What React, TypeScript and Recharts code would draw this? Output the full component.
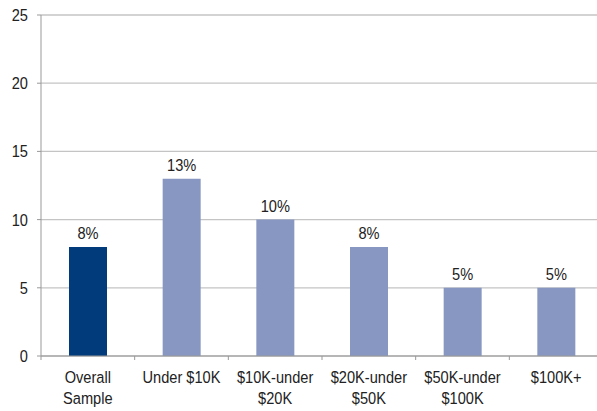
import React from 'react';
import { BarChart, Bar, XAxis, YAxis, CartesianGrid, LabelList, Cell } from 'recharts';

const categories = ['Overall\nSample', 'Under $10K', '$10K-under\n$20K', '$20K-under\n$50K', '$50K-under\n$100K', '$100K+'];
const values = [8, 13, 10, 8, 5, 5];
const barColors = ['#023b7b', '#8797c1', '#8797c1', '#8797c1', '#8797c1', '#8797c1'];
const yTicks = [0, 5, 10, 15, 20, 25];

const data = categories.map((c, i) => ({ name: c, value: values[i] }));

const FONT = '"Liberation Sans", Arial, sans-serif';
const SX = 0.86;

const XTick = (props: any) => {
  const { x, y, payload, width, visibleTicksCount } = props;
  const step = width && visibleTicksCount ? width / visibleTicksCount : 0;
  const lines = String(payload.value).split('\n');
  return (
    <g>
      <line x1={x - step / 2} x2={x - step / 2} y1={y - 10} y2={y - 6} stroke="#999" strokeWidth={1} />
      <g transform={`translate(${x},${y}) scale(${SX},1)`}>
        <text x={0} y={0} textAnchor="middle" fill="#222" fontSize={17} fontFamily={FONT}>
          {lines.map((l, i) => (
            <tspan key={i} x={0} dy={i === 0 ? 17 : 21}>{l}</tspan>
          ))}
        </text>
      </g>
    </g>
  );
};

const YTick = (props: any) => {
  const { x, y, payload } = props;
  return (
    <g transform={`translate(${x},${y}) scale(${SX},1)`}>
      <text x={0} y={0} dy={6} textAnchor="end" fill="#222" fontSize={17} fontFamily={FONT}>{payload.value}</text>
    </g>
  );
};

const TopLabel = (props: any) => {
  const { x, y, width, value } = props;
  const cx = Number(x) + Number(width) / 2;
  return (
    <g transform={`translate(${cx},${Number(y) - 8}) scale(${SX},1)`}>
      <text x={0} y={0} textAnchor="middle" fill="#222" fontSize={17} fontFamily={FONT}>{`${value}%`}</text>
    </g>
  );
};

export default function App() {
  return (
    <div style={{ position: 'fixed', left: 0, top: 0, width: 597, height: 411, overflow: 'hidden', background: '#fff' }}>
      <BarChart width={597} height={411} data={data} margin={{ top: 15, right: -6, bottom: 0, left: 0 }}>
        <CartesianGrid vertical={false} stroke="#c4c4c4" strokeWidth={1.3} />
        <XAxis dataKey="name" tick={<XTick />} tickLine={false} axisLine={{ stroke: '#999' }} height={55} interval={0} tickSize={6} tickMargin={4} />
        <YAxis domain={[0, 25]} ticks={yTicks} width={41} tickSize={4} tickMargin={9} axisLine={{ stroke: '#999' }} tickLine={{ stroke: '#999' }}
          tick={<YTick />} />
        <Bar dataKey="value" isAnimationActive={false} barSize={38}>
          {data.map((d, i) => (
            <Cell key={i} fill={barColors[i]} />
          ))}
          <LabelList dataKey="value" content={<TopLabel />} />
        </Bar>
      </BarChart>
    </div>
  );
}
